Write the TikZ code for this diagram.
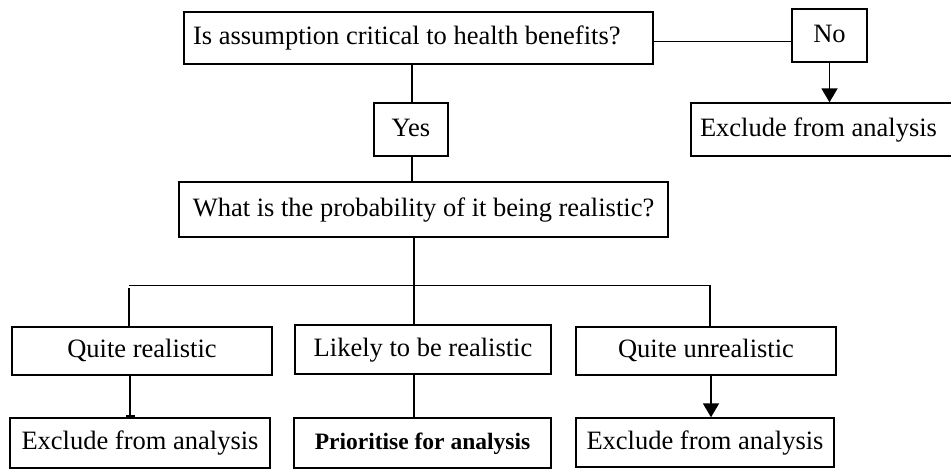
\documentclass[tikz,border=0pt]{standalone}
\usepackage{fontspec}
\setmainfont{Liberation Serif}
\usetikzlibrary{arrows.meta}
\begin{document}
\begin{tikzpicture}[x=1pt,y=-1pt,
  box/.style={draw,line width=1.4pt,inner sep=0pt,text height=18pt,text depth=5pt,font=\fontsize{26.5pt}{30pt}\selectfont},
  conn/.style={line width=1.9pt},
  thin/.style={line width=1pt},
  arr/.style={conn,-{Triangle[width=16pt,length=14pt]}}
]
\useasboundingbox (0,0) rectangle (951,469);
% boxes
\node[box,minimum width=469pt,minimum height=52pt] (q1) at (418.5,38) {\makebox[451pt][l]{Is assumption critical to health benefits?}};
\node[box,minimum width=75pt,minimum height=53pt] (no) at (829.5,35.5) {No};
\node[box,minimum width=271pt,minimum height=53pt] (ex0) at (826.5,129.5) {\makebox[253pt][l]{Exclude from analysis}};
\node[box,minimum width=74pt,minimum height=53pt] (yes) at (411,129.5) {Yes};
\node[box,minimum width=489pt,minimum height=55pt] (q2) at (423.5,209.5) {What is the probability of it being realistic?};
\node[box,minimum width=260pt,minimum height=48pt] (qr) at (142,351) {Quite realistic};
\node[box,minimum width=256pt,minimum height=49pt] (lr) at (423,349.5) {Likely to be realistic};
\node[box,minimum width=260pt,minimum height=48pt] (qu) at (706,351) {Quite unrealistic};
\node[box,minimum width=260pt,minimum height=50pt] (ex1) at (140,443) {Exclude from analysis};
\node[box,minimum width=257pt,minimum height=50pt,font=\fontsize{23.5pt}{27pt}\selectfont\bfseries] (pr) at (422.5,443) {Prioritise for analysis};
\node[box,minimum width=258pt,minimum height=49pt] (ex2) at (705,442.5) {Exclude from analysis};
% junction coordinates
\coordinate (jl) at (129,285);
\coordinate (jm) at (414,285);
\coordinate (jr) at (710,285);
\coordinate (lq1) at (412,41);
% connectors
\draw[thin] (q1.east |- lq1) -- (no.west |- lq1);
\draw[arr] (no.south) -- (no.south |- ex0.north);
\draw[conn] (lq1 |- q1.south) -- (lq1 |- yes.north);
\draw[conn] (lq1 |- yes.south) -- (lq1 |- q2.north);
\draw[conn] (jm |- q2.south) -- (jm |- lr.north);
\draw[thin] (jl) -- (jr);
\draw[conn] ([yshift=-3pt]jl) -- (jl |- qr.north);
\draw[conn] (jr) -- (jr |- qu.north);
\draw[conn,-{Bar[width=9pt,line width=2pt]}] ([xshift=1pt]jl |- qr.south) -- ([xshift=1pt]jl |- ex1.north);
\draw[conn] (jm |- lr.south) -- (jm |- pr.north);
\draw[arr] ([xshift=1pt]jr |- qu.south) -- ([xshift=1pt]jr |- ex2.north);
\end{tikzpicture}
\end{document}
